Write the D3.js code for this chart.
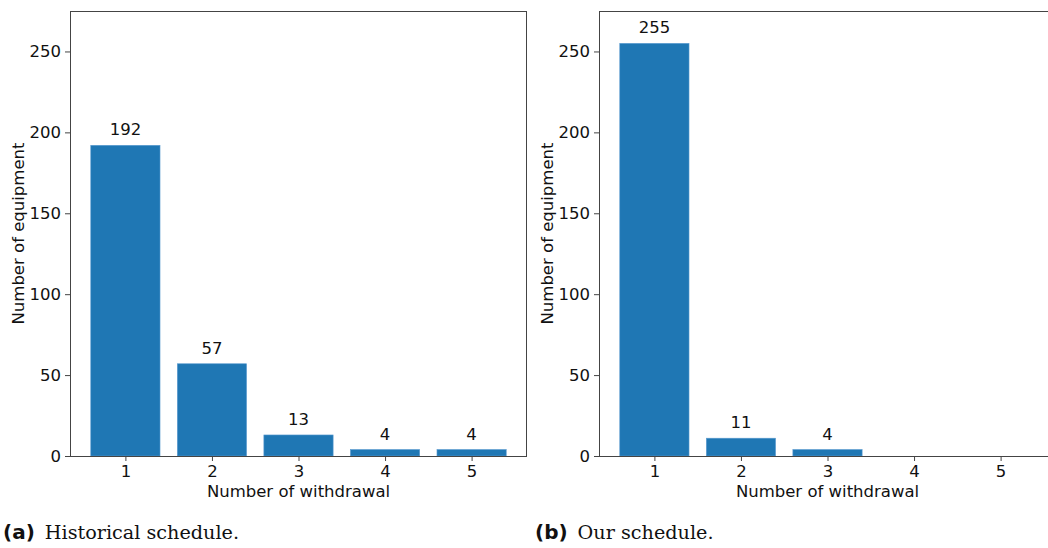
<!DOCTYPE html>
<html>
<head>
<meta charset="utf-8">
<script src="https://cdn.jsdelivr.net/npm/d3@7"></script>
<style>
  html, body { margin: 0; padding: 0; background: #fff; }
  svg { display: block; }
</style>
</head>
<body>
<svg id="chart" width="1048" height="548"></svg>
<script>
// Withdrawal counts per equipment, two schedules
const withdrawals = ["1", "2", "3", "4", "5"];
const historicalCounts = [192, 57, 13, 4, 4];
const ourCounts = [255, 11, 4, 0, 0];
const yTicks = [0, 50, 100, 150, 200, 250];
const yMax = 275;

const panels = [
  { tag: "(a)", caption: "Historical schedule.", values: historicalCounts, left: 70, capX: 3 },
  { tag: "(b)", caption: "Our schedule.", values: ourCounts, left: 599, capX: 535 }
];

const svg = d3.select("#chart");
const plotTop = 11, plotBottom = 456, plotW = 457;
const font = "DejaVu Sans, sans-serif";
const fs = 16.5;

panels.forEach(p => {
  const g = svg.append("g").attr("transform", `translate(${p.left},0)`);

  // continuous x domain with matplotlib-style margins around bars of width 0.8
  const x = d3.scaleLinear().domain([0.36, 5.64]).range([0, plotW]);
  const y = d3.scaleLinear().domain([0, yMax]).range([plotBottom, plotTop]);

  // bars
  const shown = p.values.map((v, i) => ({ v, i })).filter(d => d.v > 0);
  g.selectAll("rect.bar").data(shown)
    .enter().append("rect").attr("class", "bar")
    .attr("x", d => x(d.i + 1 - 0.4))
    .attr("width", d => x(d.i + 1 + 0.4) - x(d.i + 1 - 0.4))
    .attr("y", d => y(d.v))
    .attr("height", d => y(0) - y(d.v))
    .attr("fill", "#1f77b4")
    .attr("stroke", "#5b9bd0").attr("stroke-width", 0.6);

  // value labels
  g.selectAll("text.val").data(shown)
    .enter().append("text").attr("class", "val")
    .attr("x", d => x(d.i + 1))
    .attr("y", d => y(d.v) - 10)
    .attr("text-anchor", "middle")
    .attr("font-family", font).attr("font-size", fs).attr("fill", "#111")
    .text(d => d.v);

  // axes
  const xAxis = d3.axisBottom(x).tickValues([1, 2, 3, 4, 5])
    .tickFormat((d, i) => withdrawals[i]).tickSize(5).tickPadding(4);
  const gx = g.append("g").attr("transform", `translate(0,${plotBottom})`).call(xAxis);
  const yAxis = d3.axisLeft(y).tickValues(yTicks).tickSize(5).tickPadding(4);
  const gy = g.append("g").call(yAxis);
  [gx, gy].forEach(a => {
    a.select(".domain").remove();
    a.selectAll("line").attr("stroke", "#444").attr("stroke-width", 1);
    a.selectAll("text").attr("font-family", font).attr("font-size", fs).attr("fill", "#111");
  });

  // frame
  g.append("rect").attr("x", 0.5).attr("y", plotTop + 0.5)
    .attr("width", plotW - 1).attr("height", plotBottom - plotTop)
    .attr("fill", "none").attr("stroke", "#444").attr("stroke-width", 1);

  // axis titles
  g.append("text").attr("x", plotW / 2).attr("y", 497)
    .attr("text-anchor", "middle").attr("font-family", font).attr("font-size", fs).attr("fill", "#111")
    .text("Number of withdrawal");
  g.append("text").attr("transform", `translate(-46,${(plotTop + plotBottom) / 2}) rotate(-90)`)
    .attr("text-anchor", "middle").attr("font-family", font).attr("font-size", fs).attr("fill", "#111")
    .text("Number of equipment");

  // caption
  const cap = svg.append("text").attr("x", p.capX).attr("y", 539).attr("font-size", 20).attr("fill", "#111");
  cap.append("tspan").attr("font-family", font).attr("font-weight", "bold").text(p.tag);
  cap.append("tspan").attr("font-family", "DejaVu Serif, serif").attr("dx", 10).attr("font-size", 19.2).text(p.caption);
});
</script>
</body>
</html>
